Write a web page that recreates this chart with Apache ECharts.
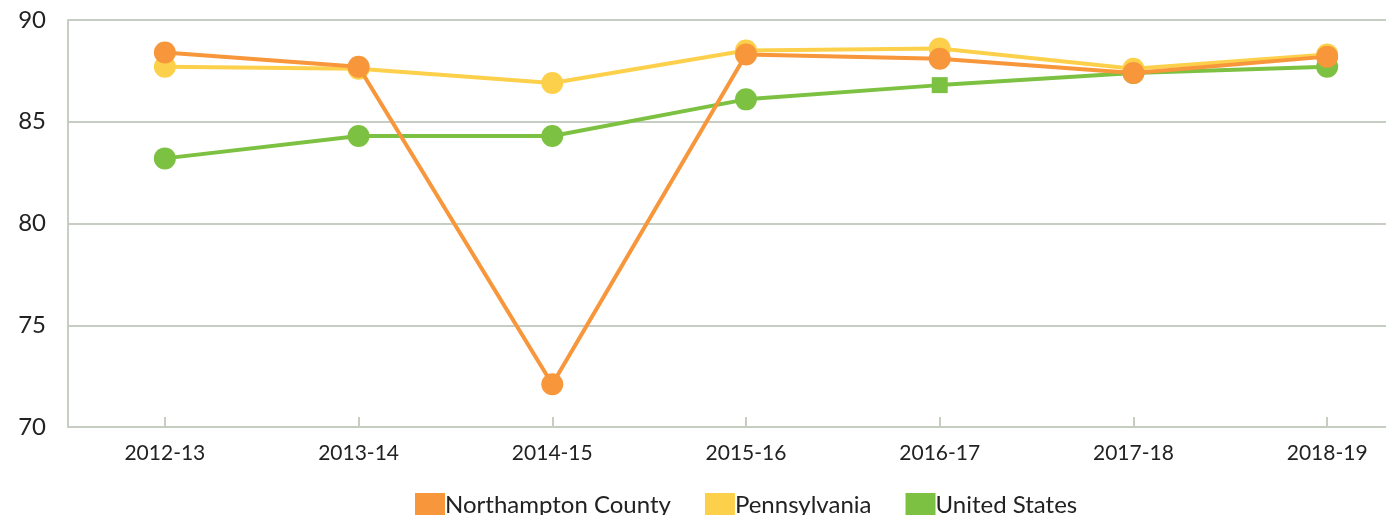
<!DOCTYPE html>
<html>
<head>
<meta charset="utf-8">
<script src="https://cdn.jsdelivr.net/npm/echarts@6/dist/echarts.min.js"></script>
<style>
  html, body { margin: 0; padding: 0; background: #fff; overflow: hidden; width: 1386px; height: 515px; }
  /* plot area continues past the right edge of the window */
  #chart { width: 1424px; height: 515px; }
</style>
</head>
<body>
<div id="chart"></div>
<script>
// School years on the category axis
const years = ['2012-13', '2013-14', '2014-15', '2015-16', '2016-17', '2017-18', '2018-19'];

// Rates by area
const northampton = [88.4, 87.7, 72.1, 88.3, 88.1, 87.4, 88.2];
const pennsylvania = [87.7, 87.6, 86.9, 88.5, 88.6, 87.6, 88.3];
const unitedStates = [83.2, 84.3, 84.3, 86.1, 86.8, 87.4, 87.7];

// Value axis range
const yMin = 70, yMax = 90, yStep = 5;

const FONT = 'Lato';
const GRID_COLOR = '#c6cec4';

const chart = echarts.init(document.getElementById('chart'));

function lineSeries(name, data, color, z) {
  return {
    name: name,
    type: 'line',
    data: data,
    z: z,
    symbol: 'circle',
    symbolSize: 22,
    showSymbol: true,
    lineStyle: { color: color, width: 4 },
    itemStyle: { color: color },
    emphasis: { disabled: true },
    animation: false
  };
}

const usSeries = lineSeries('United States', unitedStates.map((v, i) =>
  i === 4 ? { value: v, symbol: 'rect', symbolSize: 16 } : v), '#7dc142', 2);

chart.setOption({
  backgroundColor: '#ffffff',
  animation: false,
  grid: { left: 68, top: 20, right: 0, bottom: 88, containLabel: false },
  legend: {
    top: 488,
    left: 410,
    itemWidth: 30,
    itemHeight: 24,
    itemGap: 34,
    icon: 'rect',
    textStyle: { fontFamily: FONT, fontSize: 24, color: '#222', padding: [0, 0, 0, -5] },
    data: ['Northampton County', 'Pennsylvania', 'United States']
  },
  xAxis: {
    type: 'category',
    data: years,
    boundaryGap: true,
    axisLine: { show: true, lineStyle: { color: GRID_COLOR, width: 2 } },
    axisTick: { show: true, inside: true, length: 10, alignWithLabel: true, lineStyle: { color: GRID_COLOR, width: 2 } },
    axisLabel: { fontFamily: FONT, fontSize: 21, color: '#222', margin: 16 },
    splitLine: { show: false }
  },
  yAxis: {
    type: 'value',
    min: yMin,
    max: yMax,
    interval: yStep,
    axisLine: { show: true, lineStyle: { color: GRID_COLOR, width: 2 } },
    axisTick: { show: false },
    axisLabel: { fontFamily: FONT, fontSize: 24, color: '#222', margin: 22 },
    splitLine: { show: true, lineStyle: { color: GRID_COLOR, width: 2 } }
  },
  series: [
    lineSeries('Northampton County', northampton, '#f7963a', 4),
    lineSeries('Pennsylvania', pennsylvania, '#fdd04b', 3),
    usSeries
  ]
});
</script>
</body>
</html>
